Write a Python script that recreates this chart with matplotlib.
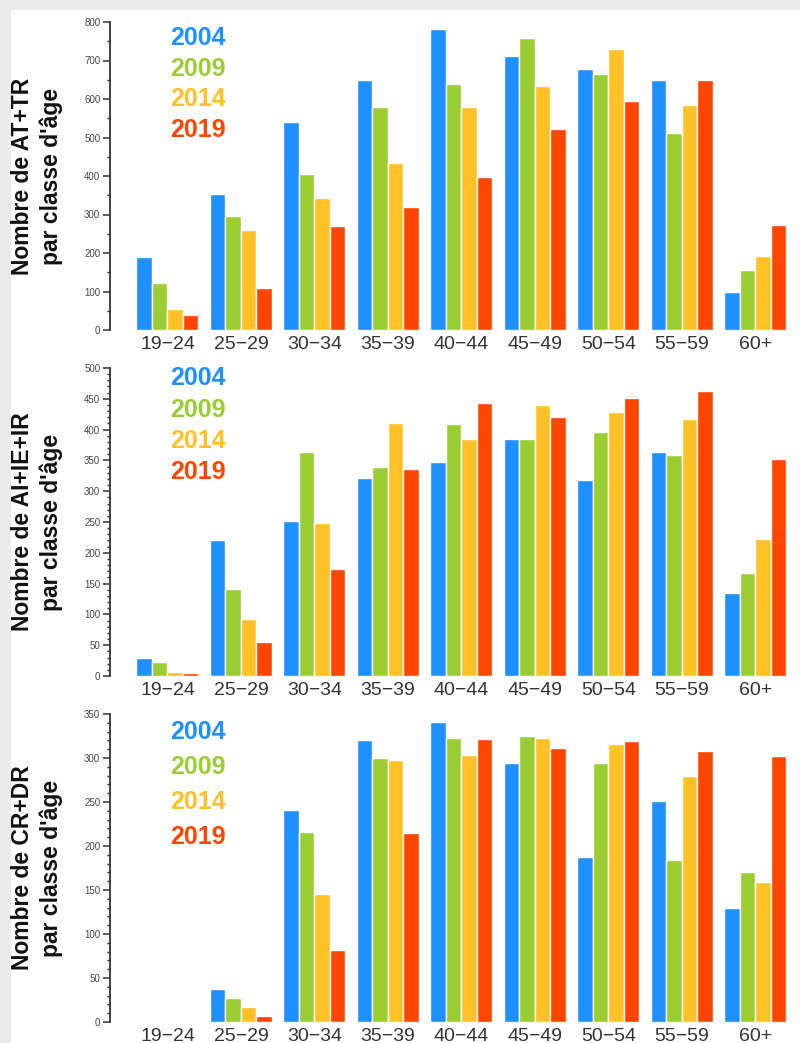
import matplotlib
matplotlib.use("Agg")
import matplotlib.pyplot as plt
from matplotlib.patches import Rectangle
from matplotlib.ticker import MultipleLocator
import numpy as np

plt.rcParams['font.family'] = ['Liberation Sans', 'DejaVu Sans']

###   DONNEES   ###

classes = ["19\u221224", "25\u221229", "30\u221234", "35\u221239", "40\u221244",
           "45\u221249", "50\u221254", "55\u221259", "60+"]
annees = ["2004", "2009", "2014", "2019"]
couleurs = ["#1E90FF", "#9ACD32", "#FFC125", "#FF4500"]

# AT+TR
at_2004 = [189, 352, 539, 650, 783, 712, 677, 650, 100]
at_2009 = [122, 295, 406, 579, 638, 759, 666, 511, 157]
at_2014 = [54, 260, 344, 433, 578, 635, 730, 585, 193]
at_2019 = [38, 108, 271, 320, 398, 522, 596, 650, 273]

# AI+IE+IR
ai_2004 = [29, 221, 252, 321, 347, 384, 318, 363, 134]
ai_2009 = [22, 141, 363, 339, 409, 384, 396, 358, 168]
ai_2014 = [6, 93, 248, 411, 385, 440, 429, 418, 223]
ai_2019 = [5, 55, 173, 336, 443, 420, 451, 462, 353]

# CR+DR
cr_2004 = [1, 37, 241, 320, 341, 294, 188, 251, 130]
cr_2009 = [1, 27, 216, 300, 323, 325, 294, 184, 170]
cr_2014 = [1, 17, 145, 298, 303, 323, 316, 280, 159]
cr_2019 = [1, 7, 82, 215, 322, 311, 319, 308, 302]

panneaux = [
    ("Nombre de AT+TR\npar classe d'âge", [at_2004, at_2009, at_2014, at_2019], 800, 100, 50),
    ("Nombre de AI+IE+IR\npar classe d'âge", [ai_2004, ai_2009, ai_2014, ai_2019], 500, 50, 10),
    ("Nombre de CR+DR\npar classe d'âge", [cr_2004, cr_2009, cr_2014, cr_2019], 350, 50, 10),
]

###   FIGURE   ###

W, H = 800, 1043
fig = plt.figure(figsize=(W / 100, H / 100), dpi=100)
fig.patch.set_facecolor("#EBEBEB")
fig.add_artist(Rectangle((11 / W, 0), 1 - 11 / W, (H - 10) / H,
                         transform=fig.transFigure, facecolor="white", edgecolor="none", zorder=0))

# positions (px) : haut et bas de chaque axe
positions = [(22, 330), (368, 676), (714, 1022)]
legende_y = [[38, 69, 99, 130], [378, 410, 441, 472], [732, 767, 802, 837]]

x = np.arange(len(classes))
larg = 0.211

for (ylab, series, ymax, maj, mino), (top, bot), ly in zip(panneaux, positions, legende_y):
    ax = fig.add_axes([110 / W, (H - bot) / H, 680 / W, (bot - top) / H])
    ax.set_facecolor("none")
    for k, (vals, c) in enumerate(zip(series, couleurs)):
        ax.bar(x + (k - 1.5) * larg, vals, width=larg, color=c, edgecolor="white", linewidth=1)
    ax.set_xlim(-0.782, 8.47)
    ax.set_ylim(0, ymax)
    for s in ["top", "right", "bottom"]:
        ax.spines[s].set_visible(False)
    ax.spines["left"].set_color("#333333")
    ax.spines["left"].set_linewidth(1.3)
    ax.yaxis.set_major_locator(MultipleLocator(maj))
    ax.yaxis.set_minor_locator(MultipleLocator(mino))
    ax.tick_params(axis="y", which="major", length=5, width=1.1, color="#333333",
                   labelsize=7, labelcolor="#444444", pad=2)
    ax.tick_params(axis="y", which="minor", length=2.5, width=1, color="#333333")
    ax.set_xticks(x)
    ax.set_xticklabels(classes)
    ax.tick_params(axis="x", length=0, labelsize=14, labelcolor="#333333", pad=4)

    fig.text(37 / W, 1 - ((top + bot) / 2) / H, ylab, rotation=90, ha="center", va="center",
             multialignment="center", fontsize=16.5, fontweight="bold", color="#111111",
             linespacing=1.25)

    for a, c, yy in zip(annees, couleurs, ly):
        fig.text(170 / W, 1 - yy / H, a, color=c, fontsize=18, fontweight="bold",
                 ha="left", va="center")

fig.savefig("out.png", dpi=100, facecolor=fig.get_facecolor())
